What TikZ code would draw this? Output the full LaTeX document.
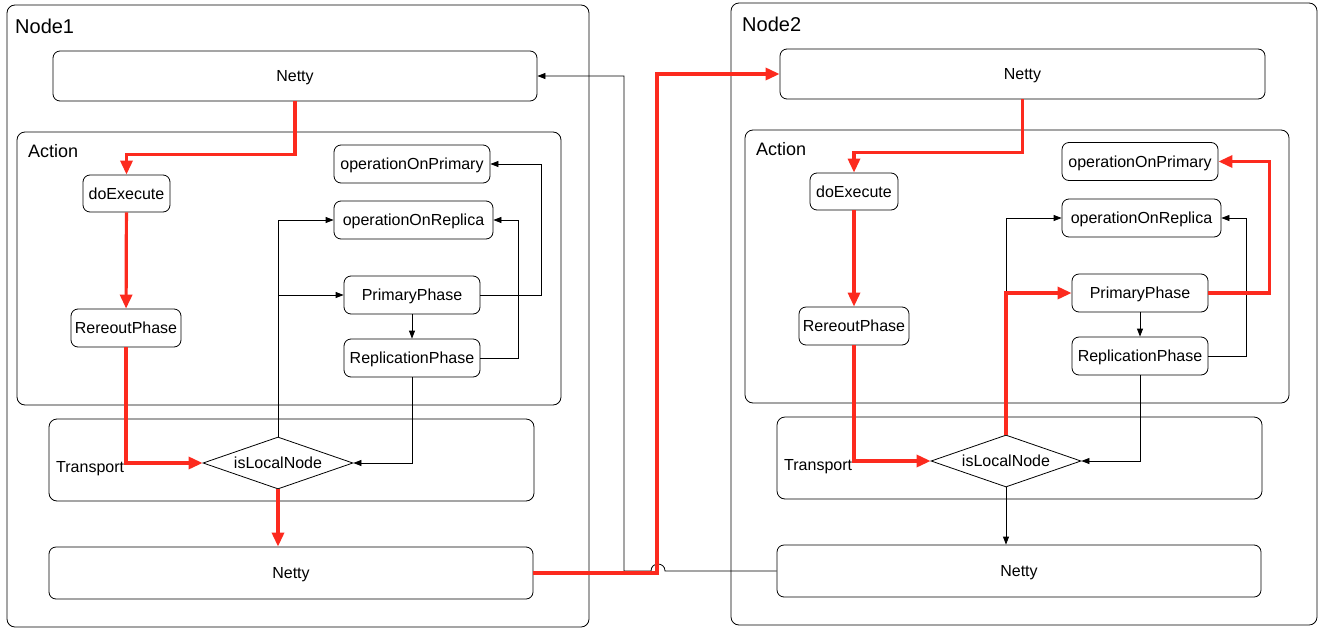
\documentclass[tikz,border=0pt]{standalone}
\usepackage{fontspec}
\setmainfont{Liberation Sans}
\usetikzlibrary{shapes.geometric,arrows.meta}
\definecolor{flowred}{RGB}{252,42,30}
\begin{document}
\begin{tikzpicture}[x=1pt,y=-1pt,
every node/.style={font=\fontsize{16}{19}\selectfont, inner sep=0pt},
frame/.style={draw, line width=0.8pt, rounded corners=8pt},
block/.style={draw, line width=0.8pt, rounded corners=7pt, minimum height=38pt, text depth=0pt},
decision/.style={draw, line width=0.8pt, diamond, aspect=2.9, minimum width=150pt, minimum height=52pt, text depth=0pt},
title/.style={anchor=base west},
arrow/.style={-{Triangle[length=8pt,width=6pt]}, line width=0.8pt},
hot/.style={-{Triangle[length=14pt,width=12pt]}, line width=3.2pt, draw=flowred}
]
\useasboundingbox (0,0) rectangle (1319,629);

% Node1
\node[frame, minimum width=582pt, minimum height=622pt] (node1) at (298,316) {};
\node[title, font=\fontsize{20}{24}\selectfont] (node1label) at (15,33) {Node1};
\node[block, minimum width=484pt, minimum height=50pt] (netty1a) at (295,76) {Netty};
\node[frame, minimum width=544pt, minimum height=273pt] (action1) at (289,268.5) {};
\node[title, font=\fontsize{18}{22}\selectfont] (action1label) at (28,157) {Action};
\node[block, minimum width=87pt, minimum height=37pt] (doexec1) at (126.5,193.5) {doExecute};
\node[block, minimum width=110pt] (rereout1) at (126,328) {RereoutPhase};
\node[block, minimum width=156pt] (opprimary1) at (412,164) {operationOnPrimary};
\node[block, minimum width=159pt] (opreplica1) at (413.5,220) {operationOnReplica};
\node[block, minimum width=136pt] (primary1) at (412,295) {PrimaryPhase};
\node[block, minimum width=136pt] (replic1) at (412,358) {ReplicationPhase};
\node[frame, minimum width=485pt, minimum height=82pt] (transport1) at (291.5,460) {};
\node[title] (transport1label) at (56,472) {Transport};
\node[decision] (local1) at (278,463) {isLocalNode};
\node[block, minimum width=484pt, minimum height=52pt] (netty1b) at (291,573) {Netty};

% Node2
\node[frame, minimum width=586pt, minimum height=622pt] (node2) at (1024,314) {};
\node[title, font=\fontsize{20}{24}\selectfont] (node2label) at (742,31) {Node2};
\node[block, minimum width=485pt, minimum height=50pt] (netty2a) at (1022.5,74) {Netty};
\node[frame, minimum width=544pt, minimum height=273pt] (action2) at (1017,266.5) {};
\node[title, font=\fontsize{18}{22}\selectfont] (action2label) at (756,155) {Action};
\node[block, minimum width=88pt, minimum height=37pt] (doexec2) at (854,191.5) {doExecute};
\node[block, minimum width=110pt] (rereout2) at (854,326) {RereoutPhase};
\node[block, minimum width=156pt] (opprimary2) at (1140,161.5) {operationOnPrimary};
\node[block, minimum width=159pt] (opreplica2) at (1141.5,218) {operationOnReplica};
\node[block, minimum width=136pt] (primary2) at (1140,293) {PrimaryPhase};
\node[block, minimum width=136pt] (replic2) at (1140,356) {ReplicationPhase};
\node[frame, minimum width=485pt, minimum height=82pt] (transport2) at (1019.5,458) {};
\node[title] (transport2label) at (784,470) {Transport};
\node[decision] (local2) at (1006,461) {isLocalNode};
\node[block, minimum width=484pt, minimum height=52pt] (netty2b) at (1019,571) {Netty};

% Node1 connectors
\draw[arrow] (local1.north) |- (opreplica1.west);
\draw[arrow] (local1.north |- primary1.west) -- (primary1.west);
\draw[arrow] (primary1.east) -- ++(61,0) |- (opprimary1.east);
\draw[arrow] (replic1.east) -- ++(38,0) |- (opreplica1.east);
\draw[arrow] (primary1) -- (replic1);
\draw[arrow] (replic1.south) |- (local1.east);
\draw[hot] (netty1a.south) -- ++(0,53) -| (doexec1.north);
\draw[hot] (doexec1) -- (rereout1);
\draw[hot] (rereout1.south) |- (local1.west);
\draw[hot] (local1.south) -- (local1.south |- netty1b.north);

% between the nodes
\draw[arrow] (netty2b.west) -- (665,571)
  .. controls (665,561.7) and (651,561.7) .. (651,571)
  -- (624,571) |- (netty1a.east);
\draw[hot] (netty1b.east) -- (657,573) |- (netty2a.west);

% Node2 connectors
\draw[arrow] (local2.north) |- (opreplica2.west);
\draw[arrow] (replic2.east) -- ++(38,0) |- (opreplica2.east);
\draw[arrow] (primary2) -- (replic2);
\draw[arrow] (replic2.south) |- (local2.east);
\draw[arrow] (local2.south) -- (local2.south |- netty2b.north);
\draw[hot] (netty2a.south) -- ++(0,53) -| (doexec2.north);
\draw[hot] (doexec2) -- (rereout2);
\draw[hot] (rereout2.south) |- (local2.west);
\draw[hot] (local2.north) |- (primary2.west);
\draw[hot] (primary2.east) -- ++(61,0) |- (opprimary2.east);
\end{tikzpicture}
\end{document}
